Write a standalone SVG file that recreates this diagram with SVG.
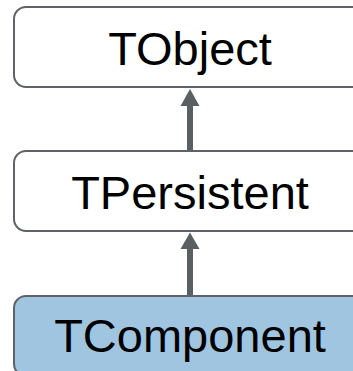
<svg xmlns="http://www.w3.org/2000/svg" width="353" height="371" viewBox="0 0 353 371">
<defs>
<style>
.box{fill:#ffffff;stroke:#5f6368;stroke-width:2}
.sel{fill:#9fc5e0}
.lbl{font-family:"Liberation Sans",Arial,sans-serif;font-size:47px;fill:#000;text-anchor:middle}
.conn{stroke:#5a5f64;stroke-width:6;fill:none}
.head{fill:#5a5f64}
</style>
</defs>
<rect width="353" height="371" fill="#ffffff"/>
<g id="connectors">
<line class="conn" x1="190" y1="151" x2="190" y2="104"/>
<polygon class="head" points="190,89 199.5,106 180.5,106"/>
<line class="conn" x1="190" y1="296" x2="190" y2="247"/>
<polygon class="head" points="190,232.5 199.5,249 180.5,249"/>
</g>
<g id="TObject">
<rect class="box" x="14" y="7" width="352" height="80" rx="12"/>
<text class="lbl" x="190" y="65">TObject</text>
</g>
<g id="TPersistent">
<rect class="box" x="14" y="151" width="352" height="80" rx="12"/>
<text class="lbl" x="190" y="209">TPersistent</text>
</g>
<g id="TComponent">
<rect class="box sel" x="14" y="296" width="352" height="80" rx="12"/>
<text class="lbl" x="190" y="352">TComponent</text>
</g>
</svg>
